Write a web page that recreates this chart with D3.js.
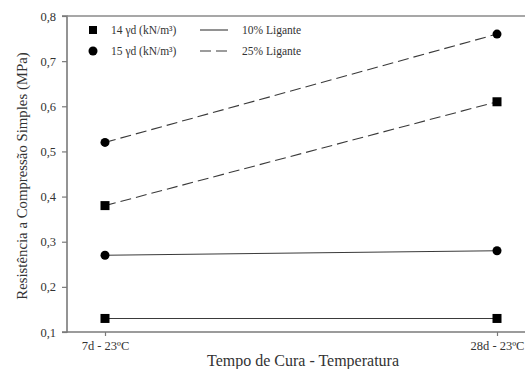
<!DOCTYPE html>
<html>
<head>
<meta charset="utf-8">
<script src="https://cdn.jsdelivr.net/npm/d3@7"></script>
<style>
  body { margin: 0; background: #fff; }
</style>
</head>
<body>
<svg id="chart" width="525" height="369"></svg>
<script>
// categories and tick labels
var categories = ["7d - 23ºC", "28d - 23ºC"];
var yTicks = [0.1, 0.2, 0.3, 0.4, 0.5, 0.6, 0.7, 0.8];

// series values (MPa)
var g14_10 = [0.13, 0.13];
var g15_10 = [0.27, 0.28];
var g14_25 = [0.38, 0.61];
var g15_25 = [0.52, 0.76];

var series = [
  {vals: g14_10, marker: "square", dash: null},
  {vals: g15_10, marker: "circle", dash: null},
  {vals: g14_25, marker: "square", dash: "11,5"},
  {vals: g15_25, marker: "circle", dash: "11,5"}
];

var FONT = "'Liberation Serif', 'Times New Roman', 'DejaVu Serif', serif";

var margin = {top: 16, left: 67, bottom: 37, right: 0};
var width = 525 - margin.left - margin.right;
var height = 369 - margin.top - margin.bottom;

var svg = d3.select("#chart");
var chart = svg.append("g").attr("transform", "translate(" + margin.left + "," + margin.top + ")");

var x = d3.scalePoint().domain(categories).range([38, 430]);
var y = d3.scaleLinear().domain([0.1, 0.8]).range([height, 0]);

var fmt = function(d){ return d3.format(".1f")(d).replace(".", ","); };

// y axis
var yaxis = chart.append("g").call(d3.axisLeft(y).tickValues(yTicks).tickFormat(fmt).tickSize(5).tickPadding(6));
// x axis
var xaxis = chart.append("g").attr("transform", "translate(0," + height + ")")
  .call(d3.axisBottom(x).tickSize(4).tickPadding(5));

[yaxis, xaxis].forEach(function(a){
  a.attr("font-family", FONT).attr("font-size", 12.5);
  a.select(".domain").attr("stroke", "#7a7a7a").attr("stroke-width", 1.6);
  a.selectAll(".tick line").attr("stroke", "#7a7a7a").attr("stroke-width", 1.2);
  a.selectAll(".tick text").attr("fill", "#333");
});
yaxis.select(".domain").attr("d", "M-5," + height + "H0V0H-5");
xaxis.select(".domain").attr("d", "M0,0H" + width);

// top border
chart.append("line").attr("x1", 0).attr("x2", width).attr("y1", 0).attr("y2", 0)
  .attr("stroke", "#8a8a8a").attr("stroke-width", 1.6);

// lines
var line = d3.line().x(function(d, i){ return x(categories[i]); }).y(function(d){ return y(d); });

series.forEach(function(s){
  chart.append("path").datum(s.vals)
    .attr("d", line).attr("fill", "none")
    .attr("stroke", "#3a3a3a").attr("stroke-width", 1.1)
    .attr("stroke-dasharray", s.dash);
  var g = chart.append("g");
  s.vals.forEach(function(v, i){
    var cx = x(categories[i]), cy = y(v);
    if (s.marker === "square") {
      g.append("rect").attr("x", cx - 4.5).attr("y", cy - 4.5).attr("width", 9).attr("height", 9).attr("fill", "#000");
    } else {
      g.append("circle").attr("cx", cx).attr("cy", cy).attr("r", 4.5).attr("fill", "#000");
    }
  });
});

// legend
var legendMarkers = [
  {marker: "square", label: "14 γd (kN/m³)"},
  {marker: "circle", label: "15 γd (kN/m³)"}
];
var legendLines = [
  {dash: null, label: "10% Ligante"},
  {dash: "11,5", label: "25% Ligante"}
];
var leg = svg.append("g").attr("font-family", FONT).attr("font-size", 11.5).attr("fill", "#333");
legendMarkers.forEach(function(m, i){
  var ly = 30 + i * 21;
  if (m.marker === "square") {
    leg.append("rect").attr("x", 89).attr("y", ly - 4).attr("width", 8).attr("height", 8).attr("fill", "#000");
  } else {
    leg.append("circle").attr("cx", 93).attr("cy", ly).attr("r", 4.5).attr("fill", "#000");
  }
  leg.append("text").attr("x", 111).attr("y", ly + 4).text(m.label);
});
legendLines.forEach(function(l, i){
  var ly = 30 + i * 21;
  leg.append("line").attr("x1", 200).attr("x2", 228).attr("y1", ly).attr("y2", ly)
    .attr("stroke", "#3a3a3a").attr("stroke-width", 1.1).attr("stroke-dasharray", l.dash);
  leg.append("text").attr("x", 242).attr("y", ly + 4).text(l.label);
});

// axis titles
svg.append("text").attr("transform", "translate(27,176) rotate(-90)")
  .attr("text-anchor", "middle").text("Resistência a Compressão Simples (MPa)")
  .attr("font-family", FONT).attr("font-size", 14.8).attr("fill", "#333");
svg.append("text").attr("x", 303).attr("y", 366).attr("text-anchor", "middle")
  .text("Tempo de Cura - Temperatura")
  .attr("font-family", FONT).attr("font-size", 16).attr("fill", "#333");
</script>
</body>
</html>
